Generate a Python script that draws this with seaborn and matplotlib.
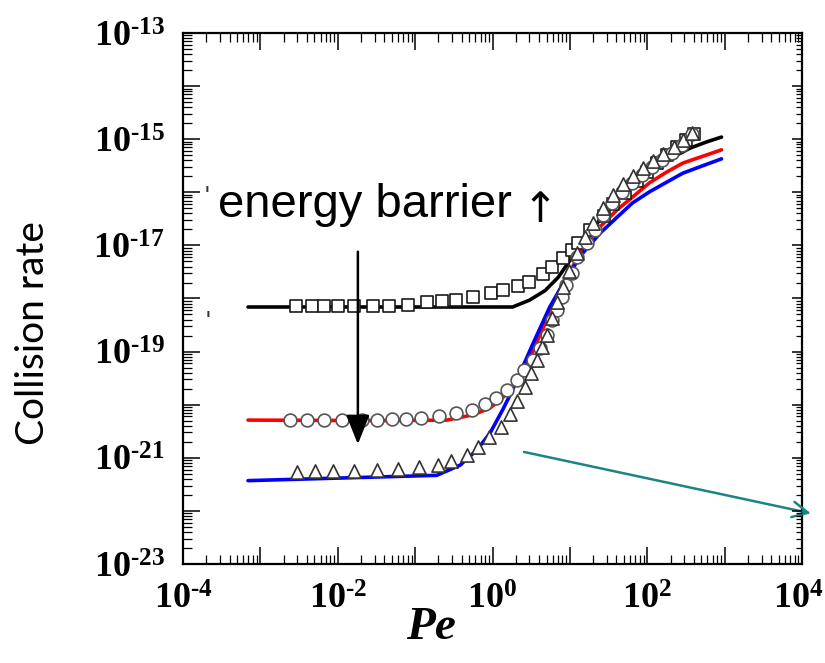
import numpy as np
import pandas as pd
import matplotlib
matplotlib.use("Agg")
import matplotlib.pyplot as plt
import matplotlib.transforms as mtransforms
import seaborn as sns
from matplotlib.ticker import FixedLocator, FixedFormatter, LogLocator, NullFormatter

# ---------------- data (log10 values) ----------------
# model curves
black_log_pe = [-3.16, 0.26, 0.48, 0.68, 0.85, 1.04, 1.26, 1.48, 1.68, 1.90, 2.12, 2.33, 2.55, 2.77, 2.96]
black_log_rate = [-18.16, -18.16, -18.03, -17.85, -17.60, -17.20, -16.75, -16.35, -16.01, -15.77, -15.52, -15.34, -15.17, -15.05, -14.96]

red_log_pe = [-3.16, -1.45, -0.59, -0.25, -0.03, 0.13, 0.26, 0.39, 0.51, 0.74, 0.96, 1.17, 1.39, 1.61, 1.81, 2.03, 2.25, 2.46, 2.68, 2.96]
red_log_rate = [-20.29, -20.30, -20.29, -20.19, -20.06, -19.87, -19.67, -19.35, -19.03, -18.27, -17.60, -17.05, -16.65, -16.33, -16.09, -15.82, -15.62, -15.45, -15.34, -15.20]

blue_log_pe = [-3.16, -0.72, -0.42, -0.20, -0.03, 0.13, 0.26, 0.39, 0.52, 0.74, 0.96, 1.17, 1.39, 1.61, 1.81, 2.03, 2.25, 2.46, 2.68, 2.96]
blue_log_rate = [-21.43, -21.33, -21.14, -20.85, -20.53, -20.10, -19.72, -19.29, -18.86, -18.16, -17.60, -17.14, -16.77, -16.47, -16.20, -15.99, -15.81, -15.64, -15.52, -15.37]

# simulation points
sq_log_pe = [-2.54, -2.33, -2.18, -2.00, -1.79, -1.55, -1.34, -1.09, -0.85, -0.65, -0.47, -0.25, -0.02, 0.13,
             0.33, 0.47, 0.65, 0.77, 0.91, 1.03, 1.10, 1.26, 1.44, 1.56, 1.71, 1.87, 2.00, 2.12, 2.25, 2.38, 2.50, 2.60]
sq_log_rate = [-18.14, -18.14, -18.14, -18.14, -18.14, -18.14, -18.14, -18.12, -18.07, -18.05, -18.03, -17.97, -17.90, -17.84,
               -17.76, -17.69, -17.54, -17.41, -17.24, -17.09, -16.95, -16.71, -16.45, -16.22, -16.01, -15.79, -15.62, -15.45,
               -15.30, -15.15, -15.02, -14.90]

circ_log_pe = [-2.62, -2.40, -2.18, -1.95, -1.69, -1.49, -1.30, -1.12, -0.93, -0.69, -0.47, -0.27, -0.10, 0.04, 0.19,
               0.32, 0.41, 0.52, 0.61, 0.70, 0.77, 0.83, 0.90, 0.95, 1.03, 1.09, 1.22, 1.32, 1.43, 1.54, 1.67, 1.80,
               1.93, 2.06, 2.19, 2.32, 2.45, 2.58]
circ_log_rate = [-20.29, -20.29, -20.29, -20.29, -20.29, -20.29, -20.27, -20.27, -20.25, -20.21, -20.16, -20.10, -19.99,
                 -19.87, -19.72, -19.54, -19.35, -19.16, -18.93, -18.69, -18.41, -18.22, -17.97, -17.75, -17.52, -17.22,
                 -16.96, -16.71, -16.43, -16.20, -15.99, -15.83, -15.67, -15.52, -15.39, -15.26, -15.11, -14.90]

tri_log_pe = [-2.53, -2.30, -2.06, -1.79, -1.49, -1.22, -0.95, -0.71, -0.53, -0.33, -0.19, -0.05, 0.11, 0.23, 0.32,
              0.42, 0.50, 0.57, 0.64, 0.70, 0.77, 0.83, 0.91, 0.99, 1.09, 1.19, 1.30, 1.43, 1.56, 1.69, 1.81, 1.94,
              2.07, 2.20, 2.34, 2.46, 2.58]
tri_log_rate = [-21.27, -21.25, -21.25, -21.25, -21.23, -21.21, -21.17, -21.14, -21.06, -20.95, -20.80, -20.61, -20.42,
                -20.18, -19.93, -19.67, -19.40, -19.16, -18.91, -18.69, -18.37, -18.07, -17.78, -17.48, -17.14, -16.84,
                -16.58, -16.30, -16.05, -15.84, -15.69, -15.54, -15.41, -15.28, -15.15, -15.02, -14.88]

x_tick_exps = [-4, -3, -2, -1, 0, 1, 2, 3, 4]
x_tick_labels = [r"$10^{\text{-}4}$", "", r"$10^{\text{-}2}$", "", r"$10^{0}$", "", r"$10^{2}$", "", r"$10^{4}$"]
y_tick_exps = [-23, -22, -21, -20, -19, -18, -17, -16, -15, -14, -13]
y_tick_labels = [r"$10^{\text{-}23}$", "", r"$10^{\text{-}21}$", "", r"$10^{\text{-}19}$", "", r"$10^{\text{-}17}$", "",
                 r"$10^{\text{-}15}$", "", r"$10^{\text{-}13}$"]

annot_text = "energy barrier"
annot_arrow = "\u2191"
x_label = "Pe"
y_label = "Collision rate"

# ---------------- style ----------------
sns.set_style("white")
plt.rcParams["font.family"] = ["Liberation Sans", "DejaVu Sans"]
plt.rcParams["mathtext.fontset"] = "custom"
plt.rcParams["mathtext.rm"] = "Liberation Serif:bold"
plt.rcParams["mathtext.bf"] = "Liberation Serif:bold"
plt.rcParams["mathtext.it"] = "Liberation Serif:italic:bold"
plt.rcParams["mathtext.default"] = "rm"
for k in ["text.color", "axes.labelcolor", "xtick.color", "ytick.color", "xtick.labelcolor", "ytick.labelcolor"]:
    plt.rcParams[k] = "black"

fig = plt.figure(figsize=(8.25, 6.63), dpi=100)
fig.patch.set_facecolor("white")
ax = fig.add_axes([183 / 825, 1 - 564 / 663, 619 / 825, 531 / 663])

def to_df(lp, lr):
    return pd.DataFrame({"Pe": np.power(10.0, lp), "rate": np.power(10.0, lr)})

for lp, lr, c in [(black_log_pe, black_log_rate, "black"),
                  (red_log_pe, red_log_rate, "#ff0000"),
                  (blue_log_pe, blue_log_rate, "#0000ff")]:
    sns.lineplot(data=to_df(lp, lr), x="Pe", y="rate", ax=ax, color=c, lw=2.6,
                 sort=False, estimator=None, zorder=2)

sns.scatterplot(data=to_df(sq_log_pe, sq_log_rate), x="Pe", y="rate", ax=ax, marker="s", s=64,
                color="white", edgecolor="#1a1a1a", linewidth=1.2, zorder=3)
sns.scatterplot(data=to_df(circ_log_pe, circ_log_rate), x="Pe", y="rate", ax=ax, marker="o", s=85,
                color="white", edgecolor="#555555", linewidth=1.2, zorder=3)
sns.scatterplot(data=to_df(tri_log_pe, tri_log_rate), x="Pe", y="rate", ax=ax, marker="^", s=90,
                color="white", edgecolor="#333333", linewidth=1.2, zorder=3)

ax.set_xscale("log")
ax.set_yscale("log")
ax.set_xlim(1e-4, 1e4)
ax.set_ylim(1e-23, 1e-13)

ax.xaxis.set_major_locator(FixedLocator(np.power(10.0, x_tick_exps)))
ax.xaxis.set_major_formatter(FixedFormatter(x_tick_labels))
ax.yaxis.set_major_locator(FixedLocator(np.power(10.0, y_tick_exps)))
ax.yaxis.set_major_formatter(FixedFormatter(y_tick_labels))
for axis in (ax.xaxis, ax.yaxis):
    axis.set_minor_locator(LogLocator(base=10, subs=np.arange(2, 10) * 1.0, numticks=100))
    axis.set_minor_formatter(NullFormatter())

ax.tick_params(which="both", direction="in", top=True, right=False, bottom=True, left=True, color="black")
ax.tick_params(which="major", length=12, width=1.1, labelsize=26, pad=13, labelcolor="black")
ax.tick_params(which="minor", length=6.5, width=0.9)
ax.tick_params(axis="x", which="major", pad=13)
for sp in ax.spines.values():
    sp.set_linewidth(1.6)
    sp.set_color("black")
ax.set_xlabel("")
ax.set_ylabel("")

# right-hand ticks (shorter)
ax2 = ax.twinx()
ax2.set_yscale("log")
ax2.set_ylim(1e-23, 1e-13)
ax2.yaxis.set_major_locator(FixedLocator(np.power(10.0, y_tick_exps)))
ax2.yaxis.set_minor_locator(LogLocator(base=10, subs=np.arange(2, 10) * 1.0, numticks=100))
ax2.yaxis.set_major_formatter(NullFormatter())
ax2.yaxis.set_minor_formatter(NullFormatter())
ax2.tick_params(which="both", direction="in", right=True, left=False, color="black")
ax2.tick_params(which="major", length=7.5, width=1.1)
ax2.tick_params(which="minor", length=4.5, width=0.9)
for sp in ax2.spines.values():
    sp.set_visible(False)

# black annotation arrow
ax.annotate("", xy=(0.0182, 1.8e-21), xytext=(0.0182, 7.6e-18),
            arrowprops=dict(arrowstyle="-|>,head_length=0.9,head_width=0.36", mutation_scale=20,
                            color="black", lw=1.8, shrinkA=0, shrinkB=0), zorder=4)
# teal arrow
ax.annotate("", xy=(1.3e4, 9.0e-23), xytext=(2.55, 1.29e-21), annotation_clip=False,
            arrowprops=dict(arrowstyle="->,head_length=0.7,head_width=0.35", mutation_scale=16,
                            color="#1b8484", lw=1.8, shrinkA=0, shrinkB=0), zorder=4)

# texts
fig.text(218 / 825, 1 - 217 / 663, annot_text, fontsize=34, ha="left", va="baseline",
         family=["Liberation Sans", "DejaVu Sans"], color="black")
fig.text(540 / 825, 1 - 222 / 663, annot_arrow, fontsize=30, ha="center", va="baseline",
         family=["DejaVu Sans"], color="black")
fig.text(431 / 825, 1 - 628 / 663, x_label, fontsize=34, ha="center", va="center",
         family="Liberation Serif", style="italic", weight="bold", color="black")
fig.text(33 / 825, 1 - 333 / 663, y_label, fontsize=28, ha="center", va="center", rotation=90,
         family=["Lato", "DejaVu Sans"], color="black")
fig.text(207 / 825, 1 - 197 / 663, "'", fontsize=18, color="#333333", ha="center", va="center")
fig.text(208 / 825, 1 - 322 / 663, "'", fontsize=18, color="#333333", ha="center", va="center")

# keep the last x tick label inside the canvas (as in the reference)
last_lbl = ax.xaxis.get_major_ticks()[-1].label1
last_lbl.set_horizontalalignment("right")
last_lbl.set_transform(last_lbl.get_transform() + mtransforms.ScaledTranslation(22 / 100, 0, fig.dpi_scale_trans))

fig.savefig("out.png", dpi=100, facecolor="white")
